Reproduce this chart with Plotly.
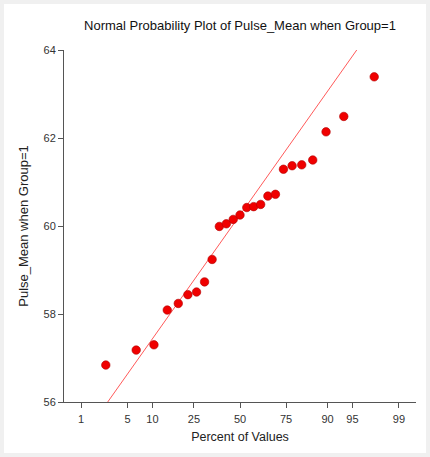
import plotly.graph_objects as go
from statistics import NormalDist

# ---- data ----
pulse_mean = [56.84, 57.18, 57.30, 58.09, 58.24, 58.44, 58.50, 58.73, 59.24, 59.99,
              60.05, 60.15, 60.25, 60.42, 60.44, 60.49, 60.68, 60.72, 61.29, 61.37,
              61.39, 61.50, 62.14, 62.49, 63.39]
percent_ticks = [1, 5, 10, 25, 50, 75, 90, 95, 99]
percent_labels = ["1", "5", "10", "25", "50", "75", "90", "95", "99"]
y_ticks = [56, 58, 60, 62, 64]
line_intercept = 60.25
line_slope = 2.195

nd = NormalDist()
n = len(pulse_mean)
vals = sorted(pulse_mean)
# Blom plotting positions -> normal quantiles
zq = [nd.inv_cdf((i - 0.375) / (n + 0.25)) for i in range(1, n + 1)]
zlim = nd.inv_cdf(0.995)
tick_z = [nd.inv_cdf(p / 100) for p in percent_ticks]

font = "Liberation Sans, Arial, sans-serif"

fig = go.Figure()
fig.add_trace(go.Scatter(
    x=[-zlim, zlim],
    y=[line_intercept - line_slope * zlim, line_intercept + line_slope * zlim],
    mode="lines", line=dict(color="#ff5a5a", width=1), hoverinfo="skip",
))
fig.add_trace(go.Scatter(
    x=zq, y=vals, mode="markers",
    marker=dict(size=8.5, color="#f00000", line=dict(color="#b00000", width=0.6)),
    cliponaxis=False,
))

W, H = 430, 457
L, R, T, B = 64, 14, 50, 55
pw, ph = W - L - R, H - T - B

def px_x(p):
    return (p - L) / pw

def px_y(p):
    return (H - B - p) / ph

fig.add_shape(type="rect", xref="paper", yref="paper", layer="below",
              x0=px_x(4), x1=px_x(426), y0=px_y(453), y1=px_y(4),
              fillcolor="white", line=dict(width=0))

fig.update_layout(
    width=W, height=H,
    margin=dict(l=L, r=R, t=T, b=B),
    paper_bgcolor="#f0f0f0", plot_bgcolor="rgba(0,0,0,0)",
    showlegend=False,
    font=dict(family=font, color="#222"),
    title=dict(text="Normal Probability Plot of Pulse_Mean when Group=1",
               x=0.5, xanchor="center", xref="paper",
               y=1 - 25 / H, yanchor="middle", yref="container",
               font=dict(size=13, color="#111", family=font)),
    xaxis=dict(range=[-zlim, zlim], tickvals=tick_z, ticktext=percent_labels,
               showgrid=False, zeroline=False, showline=True,
               linecolor="#555", linewidth=1, ticks="outside", ticklen=5,
               tickcolor="#555", tickfont=dict(size=11, color="#333"),
               ticklabelstandoff=2,
               title=dict(text="Percent of Values", font=dict(size=12.5, color="#222"),
                          standoff=8)),
    yaxis=dict(range=[56, 64], tickvals=y_ticks,
               showgrid=False, zeroline=False, showline=True,
               linecolor="#555", linewidth=1, ticks="outside", ticklen=5,
               tickcolor="#555", tickfont=dict(size=11, color="#333"),
               title=dict(text="Pulse_Mean when Group=1", font=dict(size=13, color="#222"),
                          standoff=11)),
)

fig.write_html("out.html")
